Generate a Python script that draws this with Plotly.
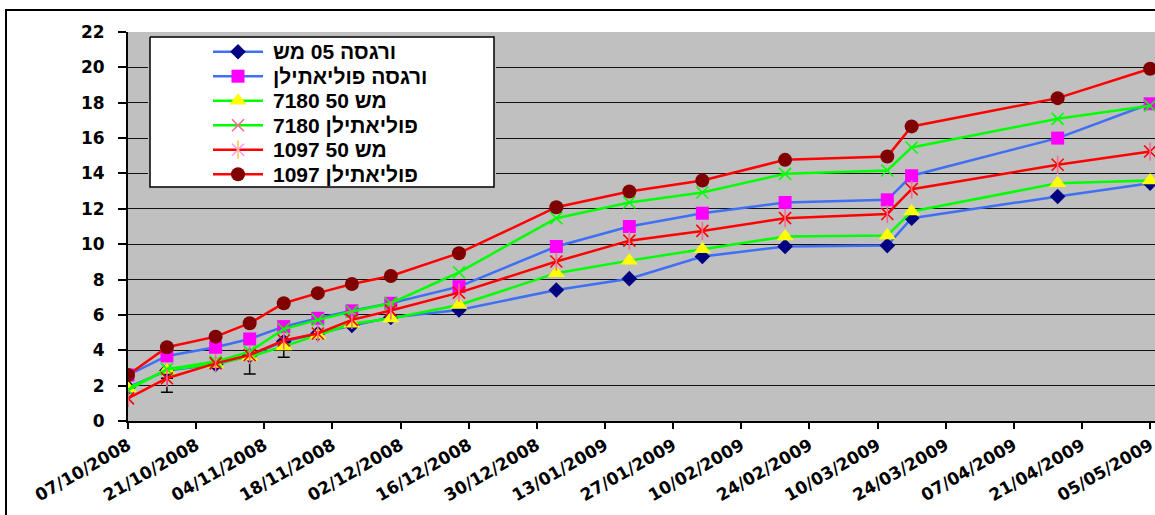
import plotly.graph_objects as go

# Measurement dates
dates = [
    "2008-10-07", "2008-10-15", "2008-10-25", "2008-11-01", "2008-11-08",
    "2008-11-15", "2008-11-22", "2008-11-30", "2008-12-14", "2009-01-03",
    "2009-01-18", "2009-02-02", "2009-02-19", "2009-03-12", "2009-03-17",
    "2009-04-16", "2009-05-05",
]

# Series values
vergasa_mesh = [1.9, 2.85, 3.2, 3.7, 4.5, 4.95, 5.4, 5.85, 6.28, 7.41, 8.05,
                9.3, 9.87, 9.92, 11.47, 12.7, 13.45]
vergasa_poly = [2.6, 3.68, 4.17, 4.64, 5.34, 5.81, 6.23, 6.66, 7.6, 9.87, 11.0,
                11.75, 12.36, 12.51, 13.87, 16.0, 17.94]
v7180_mesh = [1.85, 2.89, 3.23, 3.64, 4.22, 4.87, 5.5, 5.8, 6.56, 8.36, 9.07,
              9.71, 10.43, 10.49, 11.85, 13.45, 13.6]
v7180_poly = [1.75, 2.93, 3.36, 3.92, 5.2, 5.72, 6.19, 6.66, 8.41, 11.47, 12.36,
              12.92, 13.98, 14.17, 15.47, 17.09, 17.83]
v1097_mesh = [1.28, 2.42, 3.26, 3.73, 4.55, 4.95, 5.72, 6.25, 7.26, 9.02, 10.2,
              10.75, 11.47, 11.71, 13.11, 14.49, 15.24]
v1097_poly = [2.6, 4.17, 4.77, 5.53, 6.66, 7.23, 7.75, 8.2, 9.49, 12.09, 12.98,
              13.6, 14.77, 14.96, 16.66, 18.26, 19.92]

# Lower error bars on the 1097 / 50 mesh series
err_index = [1, 3, 4]
err_minus = [0.80, 1.07, 0.95]

# Series names
series_names = [
    "ורגסה 05 מש",
    "ורגסה פוליאתילן",
    "7180 50 מש",
    "7180 פוליאתילן",
    "1097 50 מש",
    "1097 פוליאתילן",
]

# y-axis ticks
y_ticks = list(range(0, 23, 2))

values = [vergasa_mesh, vergasa_poly, v7180_mesh, v7180_poly, v1097_mesh, v1097_poly]

BLUE = "#3F6FF5"
GREEN = "#00FF00"
RED = "#FF0000"
# each style may stack several marker symbols (the asterisk is an x plus a bar)
styles = [
    dict(line=BLUE, mcolor="#000080", open=False, marks=[("diamond", 12)]),
    dict(line=BLUE, mcolor="#FF00FF", open=False, marks=[("square", 13)]),
    dict(line=GREEN, mcolor="#FFFF00", open=False, marks=[("triangle-up", 15)]),
    dict(line=GREEN, mcolor="#00FFFF", open=True, marks=[("x-thin-open", 12)]),
    dict(line=RED, mcolor="#800080", open=True,
         marks=[("x-thin-open", 12), ("line-ns-open", 13)]),
    dict(line=RED, mcolor="#800000", open=False, marks=[("circle", 14)]),
]


def marker_for(st, symbol, size):
    if st["open"]:
        return dict(symbol=symbol, size=size,
                    line=dict(color=st["mcolor"], width=1.6))
    return dict(symbol=symbol, size=size, color=st["mcolor"], line=dict(width=0))


AXIS_FONT = "DejaVu Sans, Arial, sans-serif"
LEGEND_FONT = "Liberation Sans, Arial, sans-serif"

W, H = 1155, 515
ML, MT, MB = 128, 32, 94
PW, PH = W - ML, H - MT - MB


def px_x(p):
    return (p - ML) / PW


def px_y(p):
    return (H - MB - p) / PH


fig = go.Figure()

# error bars sit underneath the series
fig.add_trace(go.Scatter(
    x=[dates[i] for i in err_index],
    y=[v1097_mesh[i] for i in err_index],
    mode="markers",
    marker=dict(size=1, color="rgba(0,0,0,0)"),
    error_y=dict(type="data", symmetric=False,
                 array=[0] * len(err_index), arrayminus=err_minus,
                 color="black", thickness=1.5, width=6),
    showlegend=False, hoverinfo="skip",
))

for name, vals, st in zip(series_names, values, styles):
    first_sym, first_size = st["marks"][0]
    fig.add_trace(go.Scatter(
        x=dates, y=vals, name=name, mode="lines+markers",
        line=dict(color=st["line"], width=2.5),
        marker=marker_for(st, first_sym, first_size),
        showlegend=False,
    ))
    for sym, size in st["marks"][1:]:
        fig.add_trace(go.Scatter(
            x=dates, y=vals, name=name, mode="markers",
            marker=marker_for(st, sym, size),
            showlegend=False, hoverinfo="skip",
        ))

# ---- legend panel on its own small axes (units: pixels inside the box)
BOX_L, BOX_T, BOX_R, BOX_B = 150, 37, 494, 187
BW, BH = BOX_R - BOX_L, BOX_B - BOX_T
PAD = 2
fig.add_trace(go.Scatter(
    x=[0, BW, BW, 0, 0], y=[0, 0, BH, BH, 0],
    mode="lines", fill="toself", fillcolor="white",
    line=dict(color="black", width=1.5),
    xaxis="x2", yaxis="y2", showlegend=False, hoverinfo="skip",
))
ROW0, ROW_STEP = 14.7, 24.5
SAMPLE_X0, SAMPLE_X1, TEXT_X = 63, 113, 121

annotations = []
for k, (name, st) in enumerate(zip(series_names, styles)):
    ry = ROW0 + k * ROW_STEP
    fig.add_trace(go.Scatter(
        x=[SAMPLE_X0, SAMPLE_X1], y=[ry, ry], mode="lines",
        line=dict(color=st["line"], width=2.5),
        xaxis="x2", yaxis="y2", showlegend=False, hoverinfo="skip",
    ))
    for sym, size in st["marks"]:
        fig.add_trace(go.Scatter(
            x=[(SAMPLE_X0 + SAMPLE_X1) / 2], y=[ry], mode="markers",
            marker=marker_for(st, sym, size),
            xaxis="x2", yaxis="y2", showlegend=False, hoverinfo="skip",
        ))
    annotations.append(dict(
        x=TEXT_X, y=ry, xref="x2", yref="y2", text=name,
        showarrow=False, xanchor="left", yanchor="middle",
        font=dict(family=LEGEND_FONT, size=21, color="black", weight="bold"),
    ))

fig.update_layout(
    width=W, height=H,
    margin=dict(l=ML, r=0, t=MT, b=MB, pad=0),
    paper_bgcolor="white",
    plot_bgcolor="#C0C0C0",
    font=dict(family=AXIS_FONT, color="black"),
    showlegend=False,
    xaxis=dict(
        type="date",
        range=["2008-10-07", "2009-05-06"],
        tick0="2008-10-07", dtick=14 * 86400000,
        tickformat="%d/%m/%Y",
        tickangle=-30,
        ticklabeloverflow="allow",
        tickfont=dict(family=AXIS_FONT, size=17, color="black", weight="bold"),
        ticks="outside", ticklen=6, tickcolor="black", tickwidth=1.5,
        showline=True, linecolor="black", linewidth=2,
        showgrid=False, zeroline=False, automargin=False,
    ),
    yaxis=dict(
        range=[0, 22],
        tickvals=y_ticks,
        tickfont=dict(family=AXIS_FONT, size=17, color="black", weight="bold"),
        ticks="outside", ticklen=8, tickcolor="black", tickwidth=1.5,
        ticklabelstandoff=10,
        showline=True, linecolor="black", linewidth=2,
        showgrid=True, gridcolor="#111111", gridwidth=1,
        zeroline=False, automargin=False,
    ),
    xaxis2=dict(
        domain=[px_x(BOX_L - PAD), px_x(BOX_R + PAD)],
        range=[-PAD, BW + PAD], anchor="y2",
        visible=False, fixedrange=True,
    ),
    yaxis2=dict(
        domain=[px_y(BOX_B + PAD), px_y(BOX_T - PAD)],
        range=[BH + PAD, -PAD], anchor="x2",
        visible=False, fixedrange=True,
    ),
    annotations=annotations,
    shapes=[
        # chart frame
        dict(type="rect", xref="paper", yref="paper",
             x0=px_x(6), x1=px_x(1400), y0=px_y(800), y1=px_y(10),
             line=dict(color="black", width=2), fillcolor="rgba(0,0,0,0)",
             layer="above"),
    ],
)

fig.write_html("out.html")
